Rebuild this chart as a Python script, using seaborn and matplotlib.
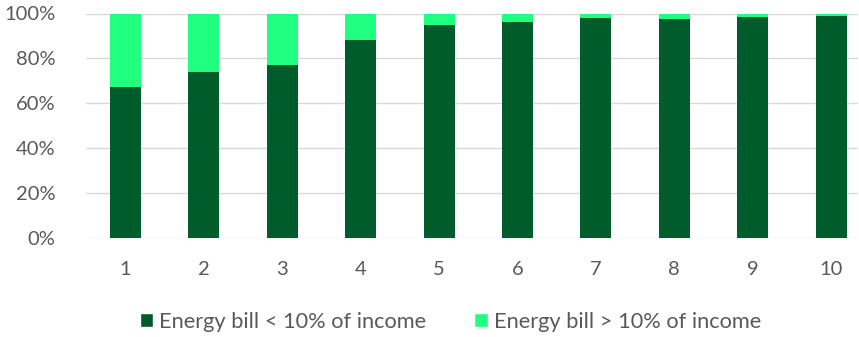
import matplotlib
matplotlib.use("Agg")
import matplotlib.pyplot as plt
from matplotlib.patches import Patch
from matplotlib.ticker import PercentFormatter
import seaborn as sns
import pandas as pd

# Share of households by income decile
deciles = ["1", "2", "3", "4", "5", "6", "7", "8", "9", "10"]
below_10 = [67.1, 74.0, 77.0, 88.1, 94.8, 96.1, 97.9, 97.5, 98.5, 98.9]
above_10 = [round(100 - v, 1) for v in below_10]

series_names = ["Energy bill < 10% of income", "Energy bill > 10% of income"]
dark_green = "#005c2b"
light_green = "#21ff80"
text_gray = "#595959"

df = pd.DataFrame({"decile": deciles, "below": below_10, "above": above_10})
df["total"] = df["below"] + df["above"]

sns.set_theme(style="white")
plt.rcParams["font.family"] = ["Lato", "DejaVu Sans"]

fig = plt.figure(figsize=(8.59, 3.37), dpi=100)
ax = fig.add_axes([86 / 859, 1 - 238.3 / 337, (858 - 86) / 859, (238.3 - 13.5) / 337])

# stacked bars: upper segment drawn full height, lower segment over it
sns.barplot(data=df, x="decile", y="total", color=light_green, width=0.395,
            saturation=1, ax=ax, linewidth=0)
sns.barplot(data=df, x="decile", y="below", color=dark_green, width=0.395,
            saturation=1, ax=ax, linewidth=0)

ax.set_ylim(0, 100)
ax.set_xlim(-0.504, 9.343)
ax.set_yticks([0, 20, 40, 60, 80, 100])
ax.yaxis.set_major_formatter(PercentFormatter(decimals=0))
ax.grid(axis="y", color="#d9d9d9", linewidth=1)
ax.set_axisbelow(True)
for s in ax.spines.values():
    s.set_visible(False)
ax.set_xlabel("")
ax.set_ylabel("")
fs = 14.5
ax.tick_params(axis="y", length=0, pad=22, labelsize=fs, labelcolor=text_gray)
ax.tick_params(axis="x", length=0, pad=16, labelsize=fs, labelcolor=text_gray)

handles = [Patch(facecolor=dark_green, label=series_names[0]),
           Patch(facecolor=light_green, label=series_names[1])]
fig.legend(handles=handles, loc="center", bbox_to_anchor=(450.5 / 859, 1 - 322 / 337),
           ncol=2, frameon=False, fontsize=15.7, labelcolor=text_gray,
           handlelength=0.6, handleheight=0.6, handletextpad=0.3,
           columnspacing=2.2, borderpad=0, borderaxespad=0)

fig.savefig("out.png", dpi=100)
